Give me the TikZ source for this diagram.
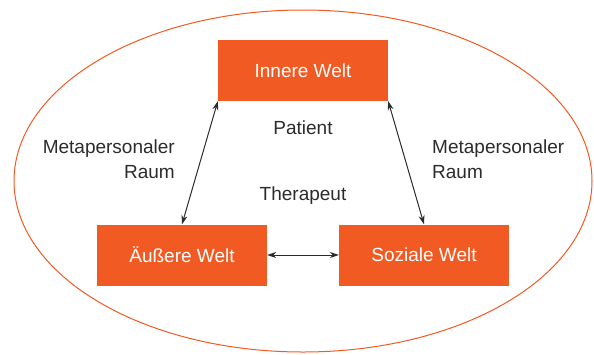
\documentclass[tikz,border=0pt]{standalone}
\usepackage{fontspec}
\setmainfont{Liberation Sans}
\usetikzlibrary{arrows.meta}
\definecolor{orng}{HTML}{F15A22}
\definecolor{txt}{HTML}{2B2B2B}
\begin{document}
\begin{tikzpicture}[x=1pt,y=-1pt,
  wbox/.style={fill=orng,draw=none,minimum width=170pt,minimum height=61pt,inner sep=0pt,text=white,font=\fontsize{19}{25}\selectfont},
  lbl/.style={text=txt,inner sep=0pt,font=\fontsize{19}{25}\selectfont},
  conn/.style={draw=txt,line width=1pt,{Stealth[length=9pt,width=6pt]}-{Stealth[length=9pt,width=6pt]}}]
\useasboundingbox (0,0) rectangle (594,354);
\draw[orng,line width=1pt] (303,181) ellipse [x radius=289pt,y radius=171pt];
\node[wbox] (inner) at (303,70.5) {Innere Welt};
\node[wbox] (aus) at (182,255) {Äußere Welt};
\node[wbox] (soz) at (424,255) {Soziale Welt};
\node[lbl] (pat) at (303,128) {Patient};
\node[lbl] (ther) at (303,196) {Therapeut};
\node[lbl,align=right,anchor=east] (ml) at (175,159) {Metapersonaler\\Raum};
\node[lbl,align=left,anchor=west] (mr) at (432,159) {Metapersonaler\\Raum};
\draw[conn] (inner.south west) -- (aus.north);
\draw[conn] (inner.south east) -- (soz.north);
\draw[conn] (aus.east) -- (soz.west);
\end{tikzpicture}
\end{document}
